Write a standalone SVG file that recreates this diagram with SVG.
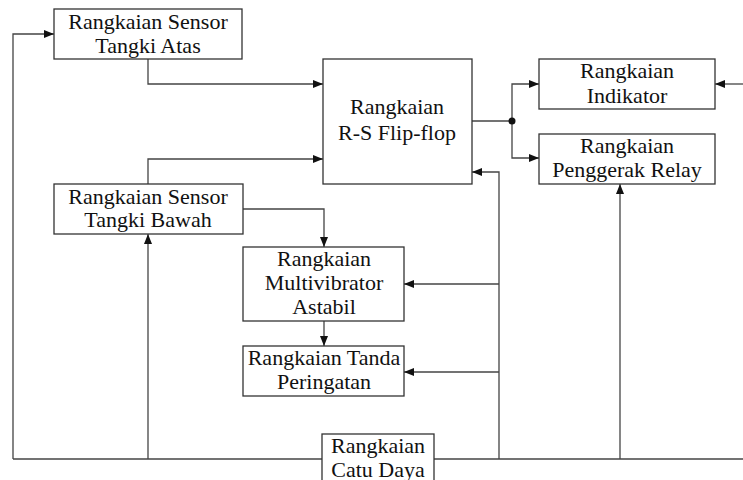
<svg xmlns="http://www.w3.org/2000/svg" width="743" height="480" viewBox="0 0 743 480">
<style>
.box{fill:#fff;stroke:#333;stroke-width:1.3}
.ln{fill:none;stroke:#444;stroke-width:1.3}
.t{font-family:'Liberation Serif','DejaVu Serif',serif;font-size:22px;fill:#111;text-anchor:middle}
</style>
<defs>
<marker id="ah" viewBox="0 0 10 8" refX="10" refY="4" markerWidth="10" markerHeight="8" markerUnits="userSpaceOnUse" orient="auto">
<path d="M0,0 L10,4 L0,8 Z" fill="#111"/>
</marker>
</defs>
<g id="connectors">
<path class="ln" d="M13,459 H743"/>
<path class="ln" d="M13,459 V34 H54" marker-end="url(#ah)"/>
<path class="ln" d="M148,59 V84 H323" marker-end="url(#ah)"/>
<path class="ln" d="M148,184 V159 H323" marker-end="url(#ah)"/>
<path class="ln" d="M148,459 V234" marker-end="url(#ah)"/>
<path class="ln" d="M243,209 H324 V247" marker-end="url(#ah)"/>
<path class="ln" d="M324,321 V346" marker-end="url(#ah)"/>
<path class="ln" d="M499,459 V172 H472" marker-end="url(#ah)"/>
<path class="ln" d="M499,284 H404" marker-end="url(#ah)"/>
<path class="ln" d="M499,372 H404" marker-end="url(#ah)"/>
<path class="ln" d="M472,121 H512"/>
<path class="ln" d="M512,121 V84 H539" marker-end="url(#ah)"/>
<path class="ln" d="M512,121 V158 H539" marker-end="url(#ah)"/>
<circle cx="512" cy="121" r="3.5" fill="#111"/>
<path class="ln" d="M743,84 H715" marker-end="url(#ah)"/>
<path class="ln" d="M620,459 V184" marker-end="url(#ah)"/>
</g>
<g id="sensor-atas" font-family="Liberation Serif, serif">
<rect class="box" x="54" y="9" width="188" height="50"/>
<text class="t" x="148" y="29">Rangkaian Sensor</text>
<text class="t" x="148" y="53">Tangki Atas</text>
</g>
<g id="sensor-bawah" font-family="Liberation Serif, serif">
<rect class="box" x="54" y="184" width="189" height="50"/>
<text class="t" x="148" y="204">Rangkaian Sensor</text>
<text class="t" x="148" y="227">Tangki Bawah</text>
</g>
<g id="flipflop" font-family="Liberation Serif, serif">
<rect class="box" x="323" y="59" width="149" height="125"/>
<text class="t" x="397" y="114">Rangkaian</text>
<text class="t" x="397" y="140">R-S Flip-flop</text>
</g>
<g id="indikator" font-family="Liberation Serif, serif">
<rect class="box" x="539" y="59" width="176" height="50"/>
<text class="t" x="627" y="78">Rangkaian</text>
<text class="t" x="627" y="103">Indikator</text>
</g>
<g id="relay" font-family="Liberation Serif, serif">
<rect class="box" x="539" y="134" width="176" height="50"/>
<text class="t" x="627" y="153">Rangkaian</text>
<text class="t" x="627" y="177">Penggerak Relay</text>
</g>
<g id="multivibrator" font-family="Liberation Serif, serif">
<rect class="box" x="243" y="247" width="161" height="74"/>
<text class="t" x="324" y="266">Rangkaian</text>
<text class="t" x="324" y="290">Multivibrator</text>
<text class="t" x="324" y="314">Astabil</text>
</g>
<g id="tanda" font-family="Liberation Serif, serif">
<rect class="box" x="243" y="346" width="161" height="50"/>
<text class="t" x="324" y="365">Rangkaian Tanda</text>
<text class="t" x="324" y="389">Peringatan</text>
</g>
<g id="catu-daya" font-family="Liberation Serif, serif">
<rect class="box" x="322" y="434" width="112" height="50"/>
<text class="t" x="378" y="453">Rangkaian</text>
<text class="t" x="378" y="477">Catu Daya</text>
</g>
</svg>
